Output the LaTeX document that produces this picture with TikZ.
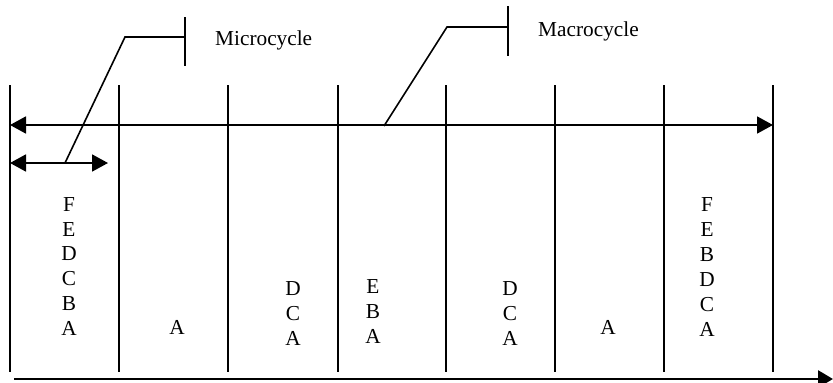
\documentclass[tikz,border=0pt]{standalone}
\usepackage{fontspec}
\setmainfont{Liberation Serif}
\usetikzlibrary{arrows.meta}
\begin{document}
\begin{tikzpicture}[x=1pt,y=-1pt,
  sep/.style={line width=2.5pt},
  span/.style={line width=1.8pt,{Triangle[length=16pt,width=17pt]}-{Triangle[length=16pt,width=17pt]}},
  axis/.style={line width=2.8pt,-{Triangle[length=15pt,width=17pt]}},
  leader/.style={line width=1.6pt},
  lbl/.style={inner sep=0pt,anchor=base west,font=\fontsize{21.3}{25}\selectfont},
  let/.style={inner sep=0pt,anchor=base,font=\fontsize{21.3}{25}\selectfont}]
\useasboundingbox (0,0) rectangle (833,383);
% separators
\foreach \i/\x in {0/10,1/119,2/228,3/338,4/446,5/555,6/664,7/773}{
  \coordinate (t\i) at (\x,85);
  \coordinate (b\i) at (\x,372);
  \draw[sep] (t\i) -- (b\i);
}
% macrocycle span
\coordinate (macL) at (10,125);
\coordinate (macR) at (773,125);
\draw[span] (macL) -- (macR);
% microcycle span
\coordinate (micL) at (10,163);
\coordinate (micR) at (108,163);
\draw[span] (micL) -- (micR);
% time axis
\coordinate (axL) at (14,379);
\coordinate (axR) at (833,379);
\draw[axis] (axL) -- (axR);
% microcycle leader
\coordinate (mi0) at (65,163);
\coordinate (mi1) at (125,37);
\coordinate (mi2) at (185,37);
\coordinate (mit) at (185,17);
\coordinate (mib) at (185,66);
\draw[leader] (mi0) -- (mi1) -- (mi2);
\draw[leader] (mit) -- (mib);
\node[lbl] (micro) at (215,45) {Microcycle};
% macrocycle leader
\coordinate (ma0) at (384,126);
\coordinate (ma1) at (447,27);
\coordinate (ma2) at (508,27);
\coordinate (mat) at (508,6);
\coordinate (mab) at (508,56);
\draw[leader] (ma0) -- (ma1) -- (ma2);
\draw[leader] (mat) -- (mab);
\node[lbl] (macro) at (538,36) {Macrocycle};
% letters
\foreach \l/\y [count=\k] in {F/211,E/236,D/260,C/285,B/310,A/335}
  \node[let] (a\k) at (69,\y) {\l};
\node[let] (b1) at (177,334) {A};
\foreach \l/\y [count=\k] in {D/295,C/320,A/345}
  \node[let] (c\k) at (293,\y) {\l};
\foreach \l/\y [count=\k] in {E/293,B/318,A/343}
  \node[let] (d\k) at (373,\y) {\l};
\foreach \l/\y [count=\k] in {D/295,C/320,A/345}
  \node[let] (e\k) at (510,\y) {\l};
\node[let] (f1) at (608,334) {A};
\foreach \l/\y [count=\k] in {F/211,E/236,B/261,D/286,C/311,A/336}
  \node[let] (g\k) at (707,\y) {\l};
\end{tikzpicture}
\end{document}
